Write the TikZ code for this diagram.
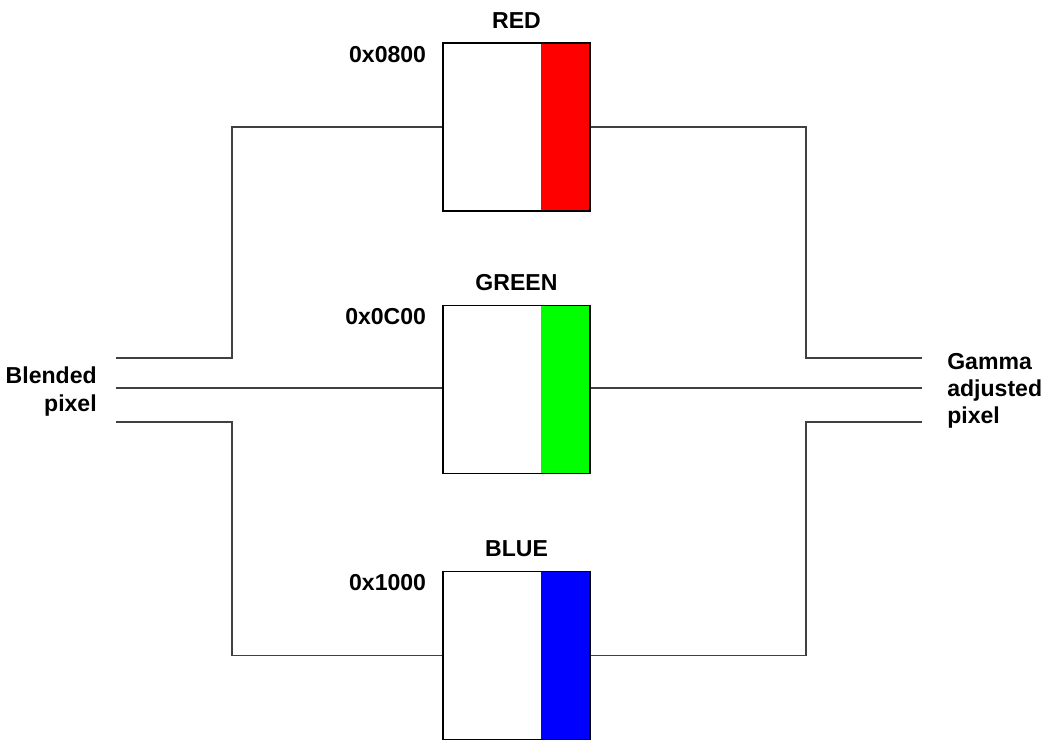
\documentclass[tikz,border=0pt]{standalone}
\usepackage{fontspec}
\setmainfont{Liberation Sans}
\usepackage{xcolor}
\usepackage{tikz}
\usetikzlibrary{positioning}

\begin{document}
\begin{tikzpicture}[
x=0.025cm, y=-0.025cm,
wire/.style={
draw=black!75,
line width=0.85pt
},
lut/.style={
draw,
line width=0.9pt,
fill=white,
inner sep=0pt,
minimum width=3.675cm,
minimum height=4.2cm,
path picture={
\fill[#1] ([xshift=-1.225cm]path picture bounding box.north east)
rectangle (path picture bounding box.south east);
}
},
lbl/.style={
font=\fontsize{16.4}{19.2}\selectfont\bfseries,
inner sep=0pt
}
]

\useasboundingbox (0,0) rectangle (1042,740);

% the three tables
\node[lut=red] (red) at (516.5,127) {};
\node[lut=green] (green) at (516.5,389.5) {};
\node[lut=blue] (blue) at (516.5,655.5) {};

\node[lbl, anchor=base] (redname) at ([yshift=0.35cm]red.north) {RED};
\node[lbl, anchor=base] (greenname) at ([yshift=0.35cm]green.north) {GREEN};
\node[lbl, anchor=base] (bluename) at ([yshift=0.35cm]blue.north) {BLUE};

\node[lbl, anchor=base east] (redaddr)
at ([xshift=-0.4cm, yshift=-0.5cm]red.north west) {0x0800};
\node[lbl, anchor=base east] (greenaddr)
at ([xshift=-0.4cm, yshift=-0.5cm]green.north west) {0x0C00};
\node[lbl, anchor=base east] (blueaddr)
at ([xshift=-0.4cm, yshift=-0.5cm]blue.north west) {0x1000};

% wire ends
\coordinate (inR) at (116,358);
\coordinate (inM) at (116,388);
\coordinate (inB) at (116,422);
\coordinate (outR) at (922,358);
\coordinate (outM) at (922,388);
\coordinate (outB) at (922,422);

\node[lbl, anchor=east, align=right, font=\fontsize{16.4}{19.9}\selectfont\bfseries] (blended)
at ([xshift=-0.475cm, yshift=-0.08cm]inM) {Blended\\pixel};
\node[lbl, anchor=west, align=left] (gamma)
at ([xshift=0.625cm, yshift=-0.07cm]outM) {Gamma\\adjusted\\pixel};

\draw[wire] (inR) -- ++(116,0) |- (red.west);
\draw[wire] (inM) -- (inM -| green.west);
\draw[wire] (inB) -- ++(116,0) |- (blue.west);

\draw[wire] (outR) -- ++(-116,0) |- (red.east);
\draw[wire] (outM) -- (outM -| green.east);
\draw[wire] (outB) -- ++(-116,0) |- (blue.east);

\end{tikzpicture}
\end{document}
